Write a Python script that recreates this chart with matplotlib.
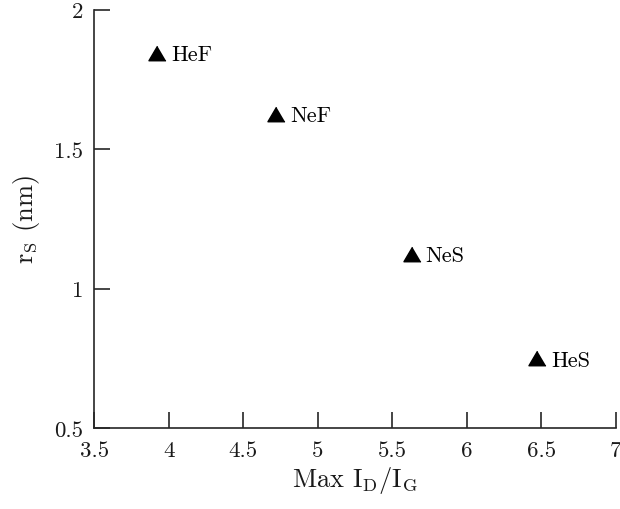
import matplotlib
matplotlib.use("Agg")
import matplotlib.pyplot as plt

plt.rcParams['font.family'] = ['cmr10', 'DejaVu Serif']
plt.rcParams['mathtext.fontset'] = 'cm'
plt.rcParams['axes.formatter.use_mathtext'] = True

names = ["HeF", "NeF", "NeS", "HeS"]
max_id_ig = [3.924, 4.721, 5.631, 6.472]
r_s = [1.844, 1.625, 1.123, 0.749]

xticks = [3.5, 4, 4.5, 5, 5.5, 6, 6.5, 7]
xticklabels = ["3.5", "4", "4.5", "5", "5.5", "6", "6.5", "7"]
yticks = [0.5, 1, 1.5, 2]
yticklabels = ["0.5", "1", "1.5", "2"]

ink = "#262626"
txt = "#1a1a1a"
fig = plt.figure(figsize=(6.2, 5.1), dpi=100)
ax = fig.add_axes([0.152, 0.159, 0.841, 0.82])

tri = [(0, 0.85), (-1, -0.85), (1, -0.85)]
ax.plot(max_id_ig, r_s, linestyle='none', marker=tri, markersize=12.3,
        color='black', clip_on=False)
for n, x, y in zip(names, max_id_ig, r_s):
    ax.annotate(n, (x, y), xytext=(10, -1), textcoords='offset points',
                ha='left', va='center', fontsize=16, color='black')

ax.set_xlim(3.5, 7)
ax.set_ylim(0.5, 2)
ax.set_xticks(xticks)
ax.set_xticklabels(xticklabels)
ax.set_yticks(yticks)
ax.set_yticklabels(yticklabels)

for s in ['top', 'right']:
    ax.spines[s].set_visible(False)
for s in ['left', 'bottom']:
    ax.spines[s].set_linewidth(1.2)
    ax.spines[s].set_color(ink)

ax.tick_params(axis='both', direction='in', length=11.5, width=1.2,
               color=ink, labelsize=16.5, labelcolor=txt)
ax.tick_params(axis='x', pad=9)
ax.tick_params(axis='y', pad=8)

ax.set_xlabel(r'Max $\mathrm{I_D/I_G}$', fontsize=19, color=txt, labelpad=3)
ax.set_ylabel(r'$\mathrm{r_S}$ (nm)', fontsize=19, color=txt, labelpad=9)

fig.savefig("out.png", dpi=100)
